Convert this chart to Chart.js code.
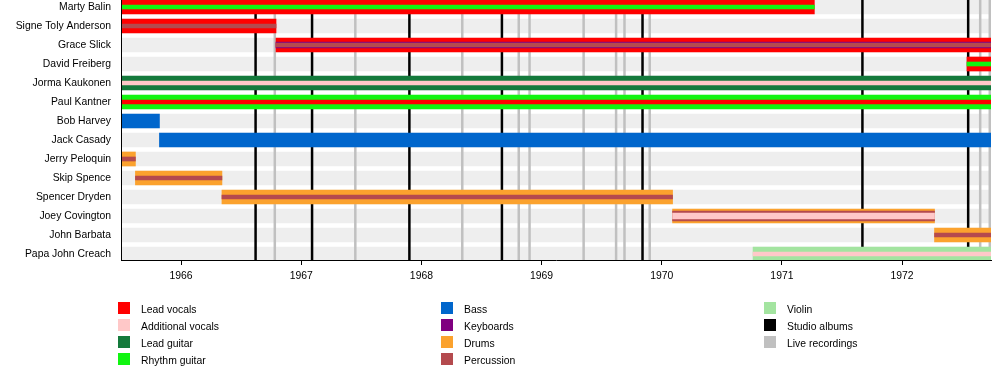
<!DOCTYPE html>
<html>
<head>
<meta charset="utf-8">
<title>Jefferson Airplane members</title>
<script src="https://cdn.jsdelivr.net/npm/chart.js@4.4.1/dist/chart.umd.min.js"></script>
<style>
  body { margin: 0; background: #fff; font-family: "Liberation Sans", Arial, sans-serif; }
  #wrap { position: relative; width: 1000px; height: 370px; }
  #legend { position: absolute; left: 0; top: 0; width: 1000px; height: 370px; }
  .swatch { position: absolute; width: 12px; height: 12px; }
  .label { position: absolute; font-size: 10.4px; line-height: 14px; color: #000; white-space: nowrap; }
</style>
</head>
<body>
<div id="wrap">
  <canvas id="timeline" width="1000" height="370"></canvas>
  <div id="legend"></div>
</div>
<script>
/* global Chart */

const members = [
  'Marty Balin', 'Signe Toly Anderson', 'Grace Slick', 'David Freiberg',
  'Jorma Kaukonen', 'Paul Kantner', 'Bob Harvey', 'Jack Casady',
  'Jerry Peloquin', 'Skip Spence', 'Spencer Dryden', 'Joey Covington',
  'John Barbata', 'Papa John Creach',
];
// decimal years
const joined = [
  1965.5, 1965.5, 1966.79, 1972.54, 1965.5, 1965.5, 1965.5, 1965.82,
  1965.5, 1965.62, 1966.34, 1970.09, 1972.27, 1970.76,
];
const left = [
  1971.27, 1966.79, 1972.74, 1972.74, 1972.74, 1972.74, 1965.82, 1972.74,
  1965.62, 1966.34, 1970.09, 1972.27, 1972.74, 1972.74,
];
// main instrument, then the nested stripes drawn inside it
const mainRole = [
  'Lead vocals', 'Lead vocals', 'Lead vocals', 'Lead vocals',
  'Lead guitar', 'Rhythm guitar', 'Bass', 'Bass',
  'Drums', 'Drums', 'Drums', 'Drums', 'Drums', 'Violin',
];
const ringRole = [
  null, null, null, null, null, null, null, null,
  null, null, null, 'Percussion', null, null,
];
const innerRole = [
  null, null, 'Keyboards', null, null, null, null, null,
  null, null, null, 'Additional vocals', null, null,
];
const stripeRole = [
  'Rhythm guitar', 'Percussion', 'Percussion', 'Rhythm guitar',
  'Additional vocals', 'Lead vocals', null, null,
  'Percussion', 'Percussion', 'Percussion', null, 'Percussion', 'Additional vocals',
];

const roles = [
  'Lead vocals', 'Additional vocals', 'Lead guitar', 'Rhythm guitar',
  'Bass', 'Keyboards', 'Drums', 'Percussion',
  'Violin', 'Studio albums', 'Live recordings',
];
const roleColors = [
  '#ff0000', '#ffc8c8', '#147a3c', '#11f511',
  '#0066cc', '#800080', '#fba22e', '#b44a4e',
  '#a3e4a0', '#000000', '#c0c0c0',
];

const studioAlbums = [1966.62, 1967.09, 1967.90, 1968.67, 1969.84, 1971.67, 1972.55];
const liveRecordings = [
  1966.78, 1967.45, 1968.34, 1968.81, 1968.90, 1969.35,
  1969.62, 1969.69, 1969.90, 1972.65, 1972.73,
];
const years = [1966, 1967, 1968, 1969, 1970, 1971, 1972];

const X_MIN = 1965.5;
const X_MAX = 1972.74;
const ROW = 19;
const Y_MIN = -7 / ROW;
const Y_MAX = Y_MIN + 260 / ROW;
const FONT = { family: '"Liberation Sans", Arial, sans-serif', size: 10.4 };

function colorOf(role) {
  return roleColors[roles.indexOf(role)];
}

function layer(roleList, thickness, order) {
  const rows = [];
  roleList.forEach((role, i) => { if (role) rows.push(i); });
  return {
    data: rows.map((i) => ({ x: [joined[i], left[i]], y: i })),
    backgroundColor: rows.map((i) => colorOf(roleList[i])),
    barThickness: thickness,
    maxBarThickness: thickness,
    grouped: false,
    borderWidth: 0,
    order,
  };
}

/* album release lines sit between the grey bands and the member bars */
const albumLines = {
  id: 'albumLines',
  afterDatasetDraw(chart, args) {
    if (args.index !== 0) return;
    const { ctx, chartArea, scales } = chart;
    const draw = (dates, color, width) => {
      ctx.strokeStyle = color;
      ctx.lineWidth = width;
      dates.forEach((d) => {
        const x = scales.x.getPixelForValue(d);
        ctx.beginPath();
        ctx.moveTo(x, chartArea.top);
        ctx.lineTo(x, chartArea.bottom);
        ctx.stroke();
      });
    };
    ctx.save();
    ctx.beginPath();
    ctx.rect(chartArea.left, chartArea.top, chartArea.width, chartArea.height);
    ctx.clip();
    draw(liveRecordings, colorOf('Live recordings'), 2.5);
    draw(studioAlbums, colorOf('Studio albums'), 2.5);
    ctx.restore();
  },
};

function timelineChart() {
  const bands = {
    data: members.map((_, i) => ({ x: [X_MIN, X_MAX], y: i })),
    backgroundColor: '#eeeeee',
    barThickness: 14,
    maxBarThickness: 14,
    grouped: false,
    borderWidth: 0,
    order: 9,
  };
  const config = {
    type: 'bar',
    data: {
      datasets: [
        bands,
        layer(mainRole, 14, 4),
        layer(ringRole, 10, 3),
        layer(innerRole, 6, 2),
        layer(stripeRole, 4, 1),
      ],
    },
    options: {
      indexAxis: 'y',
      responsive: false,
      animation: false,
      layout: { padding: { left: 0, right: 9, top: 0, bottom: 0 } },
      plugins: { legend: { display: false }, tooltip: { enabled: false } },
      scales: {
        x: {
          type: 'linear',
          min: X_MIN,
          max: X_MAX,
          afterBuildTicks: (axis) => { axis.ticks = years.map((v) => ({ value: v })); },
          afterFit: (axis) => { axis.height = 110; axis.paddingLeft = 0; axis.paddingRight = 0; },
          grid: { drawOnChartArea: false, tickLength: 5, color: '#000', lineWidth: 1 },
          border: { display: true, color: '#000', width: 1, z: 1 },
          ticks: {
            padding: 5, color: '#000', font: FONT, maxRotation: 0, autoSkip: false,
            callback: (v) => String(v),
          },
        },
        y: {
          type: 'linear',
          reverse: true,
          offset: false,
          min: Y_MIN,
          max: Y_MAX,
          afterBuildTicks: (axis) => { axis.ticks = members.map((_, i) => ({ value: i })); },
          afterFit: (axis) => { axis.width = 121; axis.paddingTop = 0; axis.paddingBottom = 0; },
          grid: { display: false, drawTicks: false, offset: false },
          border: { display: true, color: '#000', width: 1, z: 1 },
          ticks: {
            padding: 10, color: '#000', font: FONT, autoSkip: false,
            callback: (v) => members[v],
          },
        },
      },
    },
    plugins: [albumLines],
  };
  return new Chart(document.getElementById('timeline'), config);
}

/* three-column legend under the plot */
function buildLegend() {
  const colX = [118, 441, 764];
  const perCol = 4;
  const box = document.getElementById('legend');
  roles.forEach((role, i) => {
    const col = Math.floor(i / perCol);
    const row = i % perCol;
    const sw = document.createElement('div');
    sw.className = 'swatch';
    sw.style.left = colX[col] + 'px';
    sw.style.top = (302 + row * 17.1) + 'px';
    sw.style.background = roleColors[i];
    const lb = document.createElement('div');
    lb.className = 'label';
    lb.style.left = (colX[col] + 23) + 'px';
    lb.style.top = (302.5 + row * 17.1) + 'px';
    lb.textContent = role;
    box.appendChild(sw);
    box.appendChild(lb);
  });
}

timelineChart();
buildLegend();
</script>
</body>
</html>
